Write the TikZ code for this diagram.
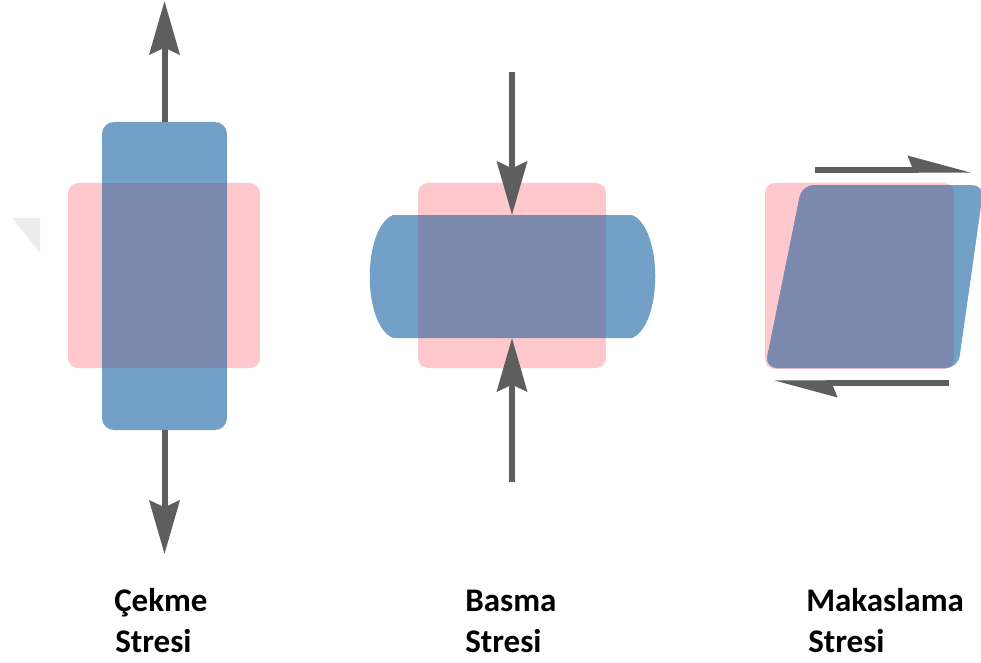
\documentclass[tikz,border=0pt]{standalone}
\usepackage{fontspec}
\setmainfont{Carlito}
\usetikzlibrary{arrows.meta}
\definecolor{pinkc}{HTML}{FFC8CC}
\definecolor{bluec}{HTML}{73A0C6}
\definecolor{overc}{HTML}{7B89AE}
\definecolor{arrc}{HTML}{5E5E5E}
\definecolor{wmc}{HTML}{ECECEC}
\tikzset{
  pinkbox/.style={fill=pinkc, draw=none, rounded corners=7.5pt, inner sep=0pt},
  bluebox/.style={fill=bluec, draw=none, rounded corners=9pt, inner sep=0pt},
  overbox/.style={fill=overc, draw=none},
  forcearrow/.style={draw=arrc, line width=4.5pt, -{Stealth[length=40pt, width=22.5pt, inset=5pt]}},
  sheararrow/.style={draw=arrc, line width=3.8pt, -{Stealth[harpoon, length=40pt, width=21pt, inset=4pt]}},
  lbl/.style={font=\bfseries\fontsize{24.75}{30.75}\selectfont, anchor=base west, inner sep=0pt}
}
\begin{document}
\begin{tikzpicture}[x=0.75pt, y=-0.75pt]
\useasboundingbox (0,0) rectangle (981,663);
\clip (0,0) rectangle (981,663);
% faint watermark corner
\fill[wmc] (12,218) -- (40,218) -- (40,253) -- cycle;

% ---------- Cekme ----------
\node[pinkbox, minimum width=144pt, minimum height=138.75pt] (p1) at (164,275.5) {};
\node[bluebox, minimum width=93.75pt, minimum height=231pt] (b1) at (164.5,276) {};
\fill[overbox] (102,183) rectangle (227,368);
\coordinate (t1) at (164.5,1);
\coordinate (d1) at (164.5,554);
\draw[forcearrow] (b1.north) -- (t1);
\draw[forcearrow] (b1.south) -- (d1);

% ---------- Basma ----------
\node[pinkbox, minimum width=141pt, minimum height=138.75pt] (p2) at (512,275.5) {};
\fill[bluec] (393,215) -- (632,215)
   .. controls (663,228) and (663,325) .. (632,338) -- (393,338)
   .. controls (362,325) and (362,228) .. (393,215);
\fill[overbox] (418,215) rectangle (606,338);
\coordinate (b2top) at (512,215);
\coordinate (b2bot) at (512,338);
\coordinate (t2) at (512,72);
\coordinate (d2) at (512,482);
\draw[forcearrow] (t2) -- (b2top);
\draw[forcearrow] (d2) -- (b2bot);

% ---------- Makaslama ----------
\node[pinkbox, minimum width=141.75pt, minimum height=139.5pt] (p3) at (859.5,276) {};
\fill[bluec, rounded corners=9pt] (802,185) -- (984,185) -- (958,368) -- (765,368) -- cycle;
\begin{scope}
  \clip[rounded corners=7.5pt] (765,183) rectangle (954,369);
  \fill[overc, rounded corners=9pt] (802,185) -- (984,185) -- (958,368) -- (765,368) -- cycle;
\end{scope}
\coordinate (s1a) at (815,170);
\coordinate (s1b) at (971,170);
\coordinate (s2a) at (949,383);
\coordinate (s2b) at (774,383);
\draw[sheararrow] (s1a) -- (s1b);
\draw[sheararrow] (s2a) -- (s2b);

% ---------- labels ----------
\node[lbl] (l1a) at (114,611) {Çekme};
\node[lbl] (l1b) at (115,652) {Stresi};
\node[lbl] (l2a) at (465,611) {Basma};
\node[lbl] (l2b) at (465,652) {Stresi};
\node[lbl] (l3a) at (806,611) {Makaslama};
\node[lbl] (l3b) at (808,652) {Stresi};
\end{tikzpicture}
\end{document}
